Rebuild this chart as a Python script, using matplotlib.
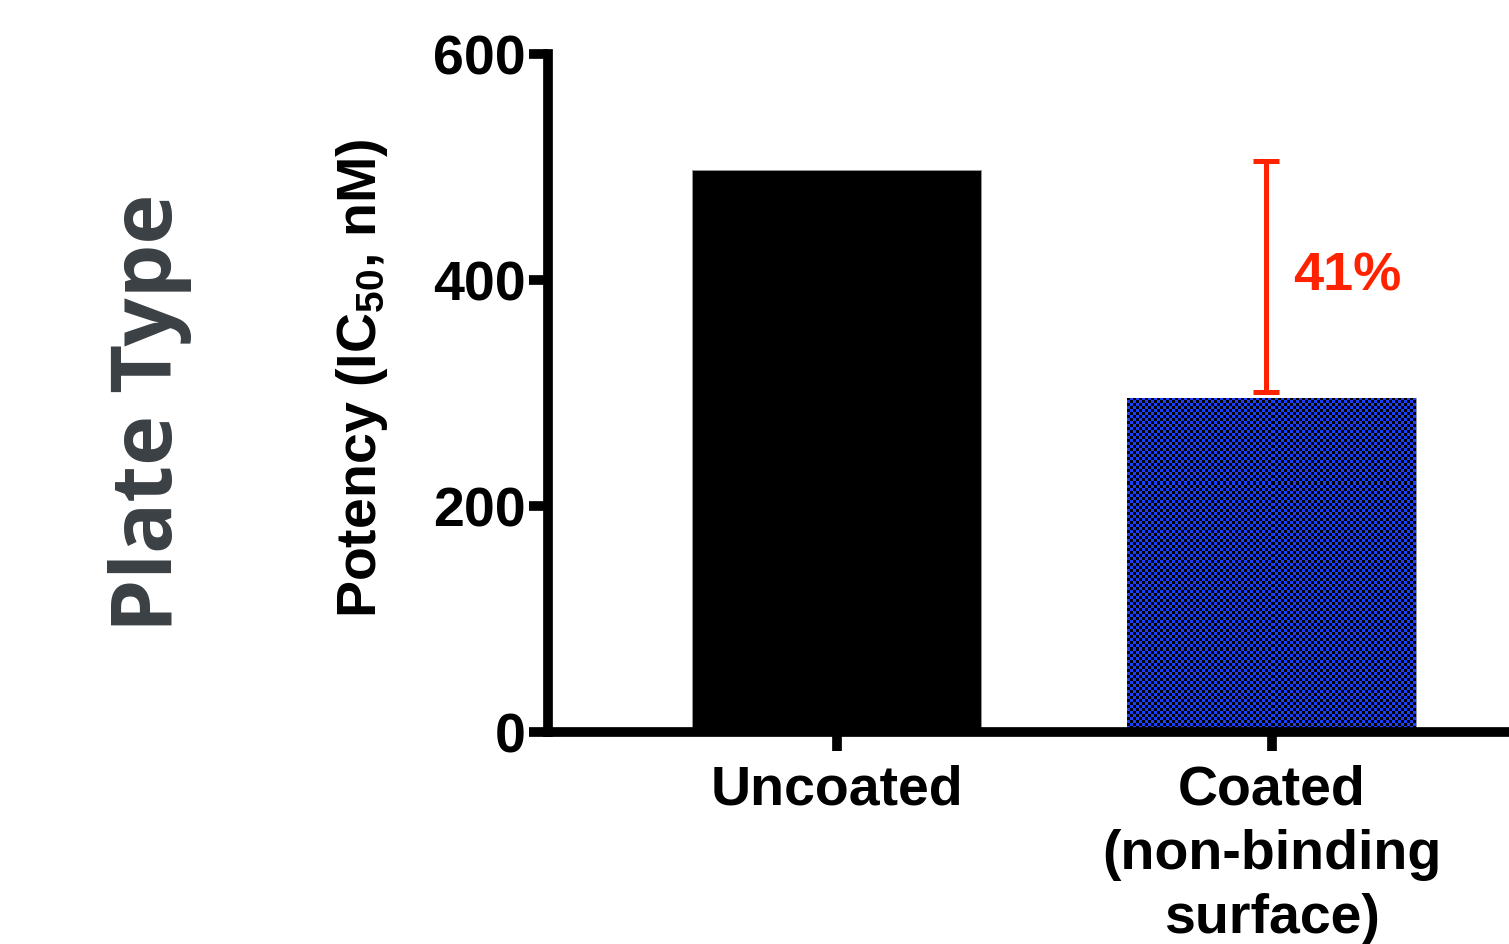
import numpy as np
import matplotlib
matplotlib.use('Agg')
import matplotlib.pyplot as plt

categories = ['Uncoated', 'Coated\n(non-binding\nsurface)']
potency    = [497, 296]
bracket_lo = 301
bracket_hi = 505
bracket_label = '41%'
y_ticks = [0, 200, 400, 600]

plt.rcParams['font.family'] = 'Liberation Sans'
plt.rcParams['font.weight'] = 'bold'
plt.rcParams['mathtext.fontset'] = 'custom'
plt.rcParams['mathtext.rm'] = 'Liberation Sans:bold'
plt.rcParams['mathtext.bf'] = 'Liberation Sans:bold'
plt.rcParams['mathtext.default'] = 'bf'

W, H = 1509, 945
fig = plt.figure(figsize=(W / 100, H / 100), dpi=100)

# axes placed in pixels; runs off the right edge like the original slide
x0, x1 = -0.664, 1.66
px_per_unit = 435
ax = fig.add_axes([548 / W, (H - 733) / H, (x1 - x0) * px_per_unit / W, (733 - 55) / H])

x = np.arange(len(categories))
bars = ax.bar(x, potency, width=0.664, color=['black', '#1a40ff'],
              edgecolor='#999999', linewidth=0.6, zorder=2)
ax.set_xlim(x0, x1)
ax.set_ylim(0, 600)

# checkerboard texture on the coated bar
b = bars[1]
(px0, py0) = ax.transData.transform((b.get_x(), 0))
(px1, py1) = ax.transData.transform((b.get_x() + b.get_width(), b.get_height()))
cell = 3
nx = int(round((px1 - px0) / cell))
ny = int(round((py1 - py0) / cell))
chk = (np.add.outer(np.arange(ny), np.arange(nx)) % 2).astype(float)
rgb = np.zeros((ny, nx, 3))
rgb[chk == 1] = [0x1a / 255, 0x40 / 255, 1.0]
im = ax.imshow(rgb, extent=(b.get_x(), b.get_x() + b.get_width(), 0, b.get_height()),
               interpolation='nearest', aspect='auto', zorder=2.5)
im.set_clip_path(b)
ax.set_aspect('auto')
ax.set_xlim(x0, x1)
ax.set_ylim(0, 600)

# red bracket
red = '#ff2200'
ax.errorbar([0.986], [(bracket_lo + bracket_hi) / 2], yerr=[(bracket_hi - bracket_lo) / 2],
            fmt='none', ecolor=red, elinewidth=3.6, capsize=9.5, capthick=3.6, zorder=3)
ax.text(1.048, 404, bracket_label, color=red, fontsize=39, fontweight='bold',
        ha='left', va='center')

for s in ['top', 'right']:
    ax.spines[s].set_visible(False)
for s in ['left', 'bottom']:
    ax.spines[s].set_linewidth(7)
ax.set_xticks(x)
ax.set_xticklabels(categories, fontsize=40, fontweight='bold', linespacing=1.3)
ax.set_yticks(y_ticks)
ax.set_yticklabels([str(t) for t in y_ticks], fontsize=40, fontweight='bold')
ax.tick_params(axis='both', direction='out', length=14, width=7, color='black')
ax.tick_params(axis='y', pad=2)
ax.tick_params(axis='x', pad=9)

fig.text(362 / W, 1 - 378 / H, r'Potency (IC$_{50}$, nM)', rotation=90,
         fontsize=40, fontweight='bold', ha='center', va='center')
fig.text(150 / W, 1 - 413 / H, 'Plate Type', rotation=90, color='#3b4045',
         fontsize=61, fontweight='bold', family='Open Sans', ha='center', va='center')

fig.savefig('out.png', dpi=100)
